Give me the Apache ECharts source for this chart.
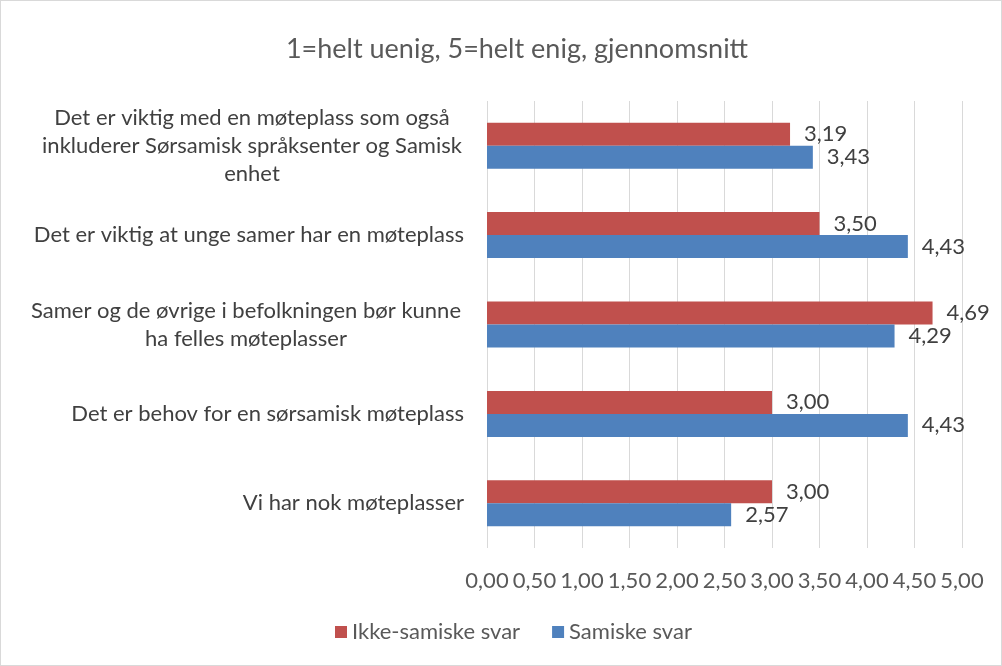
<!DOCTYPE html>
<html>
<head>
<meta charset="utf-8">
<script src="https://cdn.jsdelivr.net/npm/echarts@6/dist/echarts.min.js"></script>
<style>
  html, body { margin: 0; padding: 0; background: #fff; }
  #chart { position: absolute; left: 0; top: 0; width: 1000px; height: 664px; border: 1px solid #d9d9d9; }
</style>
</head>
<body>
<div id="chart"></div>
<script>
// categories, top to bottom
var questions = [
	'Det er viktig med en møteplass som også\ninkluderer Sørsamisk språksenter og Samisk\nenhet',
	'Det er viktig at unge samer har en møteplass',
	'Samer og de øvrige i befolkningen bør kunne\nha felles møteplasser',
	'Det er behov for en sørsamisk møteplass',
	'Vi har nok møteplasser'
];
var ikkeSamiske = [3.19, 3.50, 4.69, 3.00, 3.00];
var samiske = [3.43, 4.43, 4.29, 4.43, 2.57];
var seriesNames = ['Ikke-samiske svar', 'Samiske svar'];
var titleText = '1=helt uenig, 5=helt enig, gjennomsnitt';

var chart = echarts.init(document.getElementById('chart'));
var font = 'Lato';
var fs = 22;

function comma(v) {
	return v.toFixed(2).replace('.', ',');
}

// multi-line labels: lines centred inside a right-aligned block
var blockWidth = { 0: 424, 2: 436 };

function barLabel() {
	return {
		show: true,
		position: 'right',
		distance: 14,
		fontFamily: font,
		fontSize: fs,
		color: '#404040',
		formatter: function (p) { return comma(p.value); }
	};
}

var option = {
	animation: false,
	textStyle: { fontFamily: font },
	title: {
		text: titleText,
		left: 511,
		textAlign: 'center',
		top: 30,
		textStyle: { fontFamily: font, fontSize: 27, fontWeight: 'normal', color: '#595959' }
	},
	legend: {
		data: seriesNames,
		bottom: 17,
		left: 329,
		itemWidth: 12,
		itemHeight: 12,
		itemGap: 32,
		icon: 'rect',
		textStyle: { fontFamily: font, fontSize: fs, color: '#595959' }
	},
	grid: { left: 486, right: 39, top: 100, bottom: 117 },
	xAxis: {
		type: 'value',
		min: 0,
		max: 5,
		interval: 0.5,
		axisLine: { show: false },
		axisTick: { show: false },
		splitLine: { lineStyle: { color: '#d9d9d9', width: 1 } },
		axisLabel: {
			fontFamily: font,
			fontSize: fs,
			color: '#595959',
			margin: 22,
			formatter: function (v) { return comma(v); }
		}
	},
	yAxis: {
		type: 'category',
		data: questions,
		inverse: true,
		axisLine: { show: false },
		axisTick: { show: false },
		axisLabel: {
			fontFamily: font,
			fontSize: fs,
			color: '#404040',
			lineHeight: 28,
			margin: 23,
			formatter: function (v, idx) {
				if (blockWidth[idx]) {
					return v.split('\n').map(function (l) { return '{b' + idx + '|' + l + '}'; }).join('\n');
				}
				return v;
			},
			rich: {
				b0: { width: blockWidth[0], align: 'center', fontFamily: font, fontSize: fs, color: '#404040', lineHeight: 28 },
				b2: { width: blockWidth[2], align: 'center', fontFamily: font, fontSize: fs, color: '#404040', lineHeight: 28 }
			}
		}
	},
	series: [{
		name: seriesNames[0],
		type: 'bar',
		data: ikkeSamiske,
		barWidth: 23,
		barGap: '0%',
		itemStyle: { color: '#C0504D' },
		label: barLabel()
	}, {
		name: seriesNames[1],
		type: 'bar',
		data: samiske,
		barWidth: 23,
		barGap: '0%',
		itemStyle: { color: '#4F81BD' },
		label: barLabel()
	}]
};

chart.setOption(option);
</script>
</body>
</html>
